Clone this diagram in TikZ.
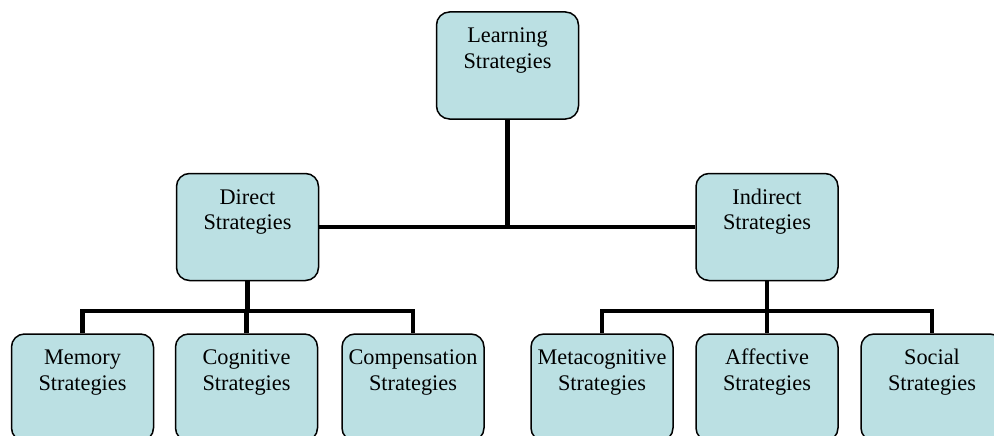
\documentclass[tikz,border=0pt]{standalone}
\usepackage{fontspec}
\setmainfont{Liberation Serif}
\definecolor{boxfill}{RGB}{187,224,227}
\newcommand{\boxtext}[1]{\parbox[c][105pt][t]{141pt}{\centering\fontsize{22.3}{25.7}\selectfont\rule{0pt}{29.5pt}#1}}
\begin{document}
\begin{tikzpicture}[x=1pt,y=1pt,
  sbox/.style={draw=black, line width=1.5pt, fill=boxfill, rounded corners=13pt, inner sep=0pt, minimum width=142pt, minimum height=107pt},
  conn/.style={draw=black, line width=4.5pt, line join=miter}]
\useasboundingbox (0,0) rectangle (994,-436);
\clip (0,0) rectangle (994,-436);
\node[sbox] (top) at (507.5,-65.5) {\boxtext{Learning\\Strategies}};
\node[sbox] (dir) at (247.5,-227) {\boxtext{Direct\\Strategies}};
\node[sbox] (ind) at (767,-227) {\boxtext{Indirect\\Strategies}};
\node[sbox] (mem) at (82.5,-387.5) {\boxtext{Memory\\Strategies}};
\node[sbox] (cog) at (246.5,-387.5) {\boxtext{Cognitive\\Strategies}};
\node[sbox] (comp) at (413,-387.5) {\boxtext{Compensation\\Strategies}};
\node[sbox] (meta) at (602,-387.5) {\boxtext{Metacognitive\\Strategies}};
\node[sbox] (aff) at (767,-387.5) {\boxtext{Affective\\Strategies}};
\node[sbox] (soc) at (932,-387.5) {\boxtext{Social\\Strategies}};
\coordinate (bus) at (0,-311);
\draw[conn] (dir.east) -- (ind.west);
\draw[conn] (top.south) -- (top.south |- dir.east);
\draw[conn] (dir.south) -- (dir.south |- bus);
\draw[conn] (mem.north) -- (mem.north |- bus) -- (comp.north |- bus) -- (comp.north);
\draw[conn] (cog.north) -- (cog.north |- bus);
\draw[conn] (ind.south) -- (ind.south |- bus);
\draw[conn] (meta.north) -- (meta.north |- bus) -- (soc.north |- bus) -- (soc.north);
\draw[conn] (aff.north) -- (aff.north |- bus);
\end{tikzpicture}
\end{document}
